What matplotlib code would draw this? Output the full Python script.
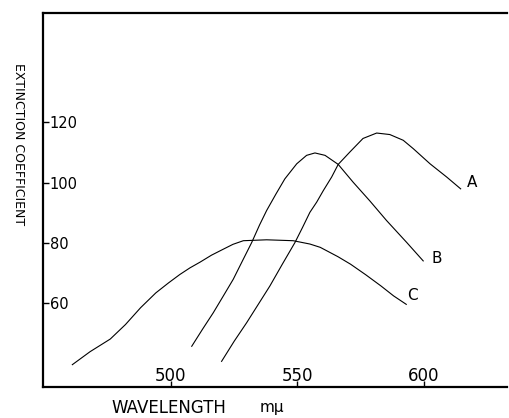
import matplotlib.pyplot as plt

# curve A
a_wl = [520, 525, 529.9, 534.5, 539.1, 544, 549, 552, 554.9, 557.6, 560.2, 563.5, 566.1,
        570.7, 575.9, 581.3, 586.5, 591.8, 595.8, 602.4, 609, 614.5]
a_ext = [40.8, 47.5, 53.6, 59.7, 65.8, 73, 80.2, 85.2, 90.2, 93.6, 97.4, 101.9, 106.1,
         110.2, 114.7, 116.5, 116, 114.1, 111.3, 106.3, 101.9, 98]

# curve B
b_wl = [508.2, 512.5, 516.7, 520.7, 524.6, 528.3, 531.9, 535, 537.8, 541.5, 545, 549.7,
        553.6, 556.9, 560.9, 566.1, 572, 578.6, 585.2, 593.2, 599.7]
b_ext = [45.8, 51.5, 56.9, 62.5, 68, 74.2, 80.2, 86, 90.8, 96.3, 101.3, 106.3,
         109.1, 109.9, 109.1, 106.1, 100.2, 94, 87.5, 80.2, 74.1]

# curve C
c_wl = [461, 468, 476, 482, 488, 494, 499, 503.5, 507.5, 511.5, 516, 520.7, 524.5, 528.6,
        537.8, 548.3, 554.9, 559, 566, 571, 577, 583, 588, 593]
c_ext = [39.7, 44, 48.2, 53, 58.6, 63.5, 66.8, 69.6, 71.8, 73.7, 76, 78, 79.6, 80.8,
         81.1, 80.8, 79.7, 78.6, 75.5, 73, 69.5, 65.8, 62.5, 59.7]

curves = [('A', a_wl, a_ext, (617, 100)),
          ('B', b_wl, b_ext, (603, 75)),
          ('C', c_wl, c_ext, (593.5, 62.5))]

x_ticks = [500, 550, 600]
y_ticks = [60, 80, 100, 120]

fig = plt.figure(figsize=(5.1, 4.18), dpi=100)
ax = fig.add_axes([0.0843, 0.0742, 0.9097, 0.8947])

for name, wl, ext, pos in curves:
    ax.plot(wl, ext, color='black', lw=0.8)
    ax.text(pos[0], pos[1], name, fontsize=11, ha='left', va='center')

ax.set_xlim(449.4, 632.8)
ax.set_ylim(32.3, 156.3)

ax.set_xticks(x_ticks)
ax.set_yticks(y_ticks)
ax.tick_params(axis='x', direction='in', length=4, width=1, pad=-14.5, labelsize=12)
ax.tick_params(axis='y', direction='in', length=4, width=1, pad=-4.7, labelsize=10.5)
for lbl in ax.get_yticklabels():
    lbl.set_horizontalalignment('left')

ax.spines['right'].set_visible(False)
for side in ['left', 'bottom', 'top']:
    ax.spines[side].set_linewidth(1.6)

fig.text(0.037, 0.655, 'EXTINCTION COEFFICIENT', rotation=-90,
         ha='center', va='center', fontsize=9)
fig.text(0.331, 0.024, 'WAVELENGTH', ha='center', va='center', fontsize=12)
fig.text(0.51, 0.024, 'm\u03bc', ha='left', va='center', fontsize=11)

fig.savefig('out.png', dpi=100)
